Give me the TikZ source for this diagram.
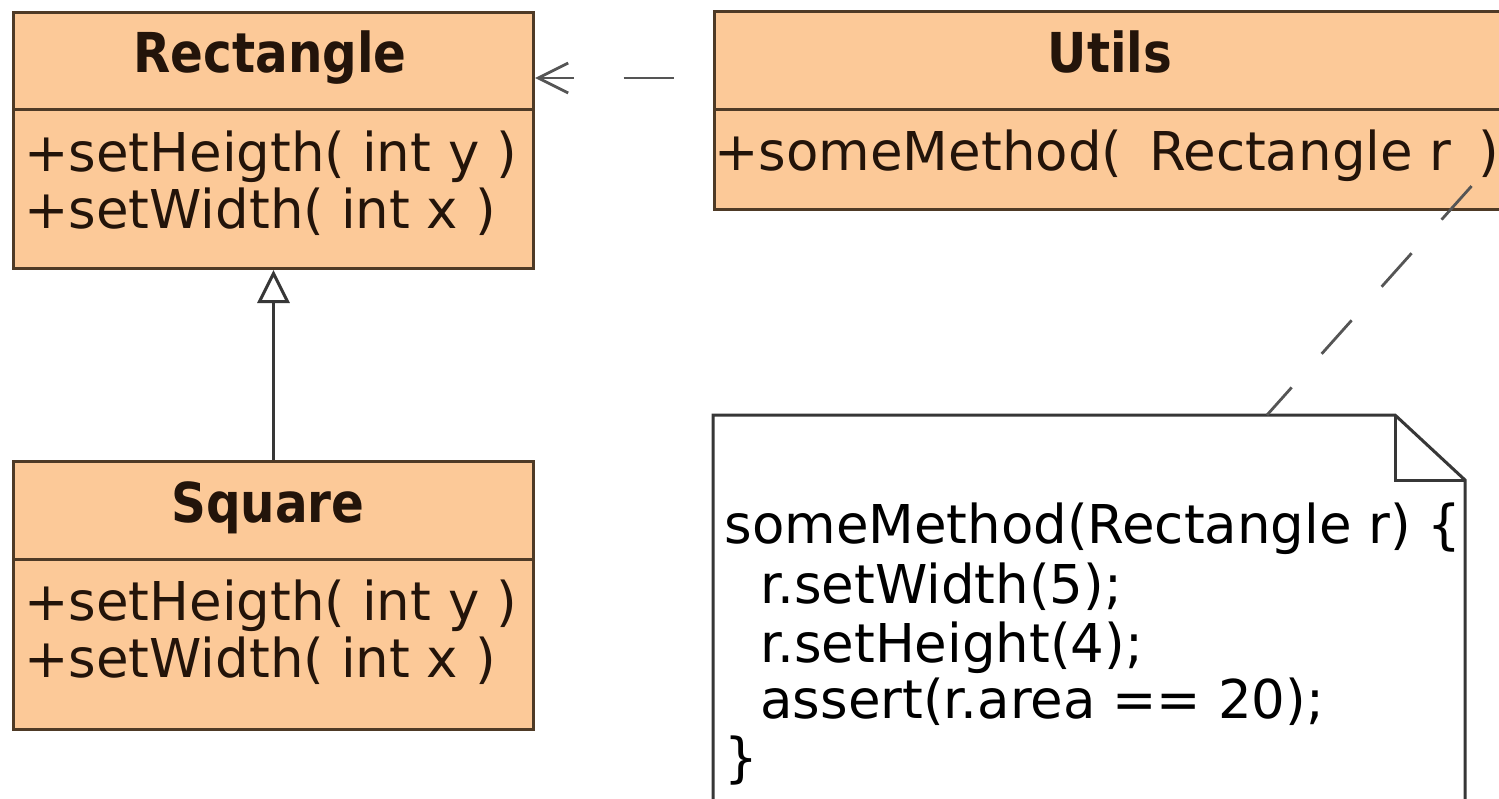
\documentclass[tikz,border=0pt]{standalone}
\usepackage{fontspec}
\setmainfont{DejaVu Sans}[FakeStretch=0.99]
\newfontfamily\titlefont{DejaVu Sans}[FakeStretch=0.88]
\usetikzlibrary{arrows.meta}

\definecolor{classfill}{RGB}{252,201,152}
\definecolor{classline}{RGB}{78,58,38}
\definecolor{inktext}{RGB}{35,20,10}
\definecolor{noteline}{RGB}{55,55,55}
\definecolor{linkgray}{RGB}{85,85,85}

\begin{document}
\begin{tikzpicture}[x=0.5pt,y=-0.5pt,
  classbox/.style={draw=classline, fill=classfill, line width=1.5pt,
    anchor=north west, inner sep=0pt},
  divider/.style={draw=classline, line width=1.5pt},
  ctitle/.style={anchor=base, inner sep=0pt, text=inktext,
    font=\titlefont\bfseries\fontsize{27.5}{30}\selectfont},
  member/.style={anchor=base west, inner sep=0pt, text=inktext,
    font=\fontsize{26.75}{28.5}\selectfont},
  codeline/.style={anchor=base west, inner sep=0pt, text=black,
    font=\fontsize{26.75}{28.5}\selectfont},
  link/.style={draw=linkgray, line width=1.4pt}
]
\useasboundingbox (0,0) rectangle (1499,798);
\fill[white] (0,0) rectangle (1499,798);

% class Rectangle
\node[classbox, minimum width=260pt, minimum height=128pt] (rect) at (12,11) {};
\draw[divider] (12,109) -- (532,109);
\node[ctitle] (rectname) at (270,72) {Rectangle};
\node[member] (rectm1) at (24,171) {+setHeigth( int y )};
\node[member] (rectm2) at (24,228) {+setWidth( int x )};

% class Square
\node[classbox, minimum width=260pt, minimum height=134pt] (square) at (12,460) {};
\draw[divider] (12,559) -- (532,559);
\node[ctitle] (squarename) at (268,522) {Square};
\node[member] (squarem1) at (24,620) {+setHeigth( int y )};
\node[member] (squarem2) at (24,677) {+setWidth( int x )};

% class Utils
\node[classbox, minimum width=397pt, minimum height=99pt] (utils) at (713,10) {};
\draw[divider] (713,109) -- (1507,109);
\node[ctitle] (utilsname) at (1110,72) {Utils};
\node[member] (utilsm1) at (714,170)
  {+someMethod(\hspace{0.5em}Rectangle r\hspace{0.5em})};

% note with folded corner
\node[anchor=north west, inner sep=0pt, minimum width=376pt,
  minimum height=200pt] (note) at (713,415) {};
\filldraw[draw=noteline, fill=white, line width=1.5pt]
  (note.north west) -- (1395,415) -- (1465,480) -- (1465,812)
  -- (713,812) -- cycle;
\draw[noteline, line width=1.5pt] (1395,415) -- (1395,480) -- (1465,480);
\node[codeline] (code1) at (724,543) {someMethod(Rectangle r) \{};
\node[codeline] (code2) at (760,603) {r.setWidth(5);};
\node[codeline] (code3) at (760,662) {r.setHeight(4);};
\node[codeline] (code4) at (760,718) {assert(r.area == 20);};
\node[codeline] (code5) at (724,776) {\}};

% generalization Square -> Rectangle
\draw[draw=noteline, line width=1.5pt,
  -{Triangle[open, length=16.5pt, width=16pt, fill=white]}]
  (square.north) -- (rect.south);

% dependency Utils -> Rectangle
\coordinate (deprow) at (0,78);
\draw[link, dash pattern=on 25pt off 25pt, dash phase=8pt,
  {Straight Barb[length=15pt, width=15pt]}-]
  (rect.east |- deprow) -- (utils.west |- deprow);

% note anchor
\coordinate (noteanchor) at (1267,415);
\coordinate (utilsanchor) at (1477,180);
\draw[link, dash pattern=on 22.5pt off 22.5pt, dash phase=4pt]
  (noteanchor) -- (utilsanchor);
\end{tikzpicture}
\end{document}
